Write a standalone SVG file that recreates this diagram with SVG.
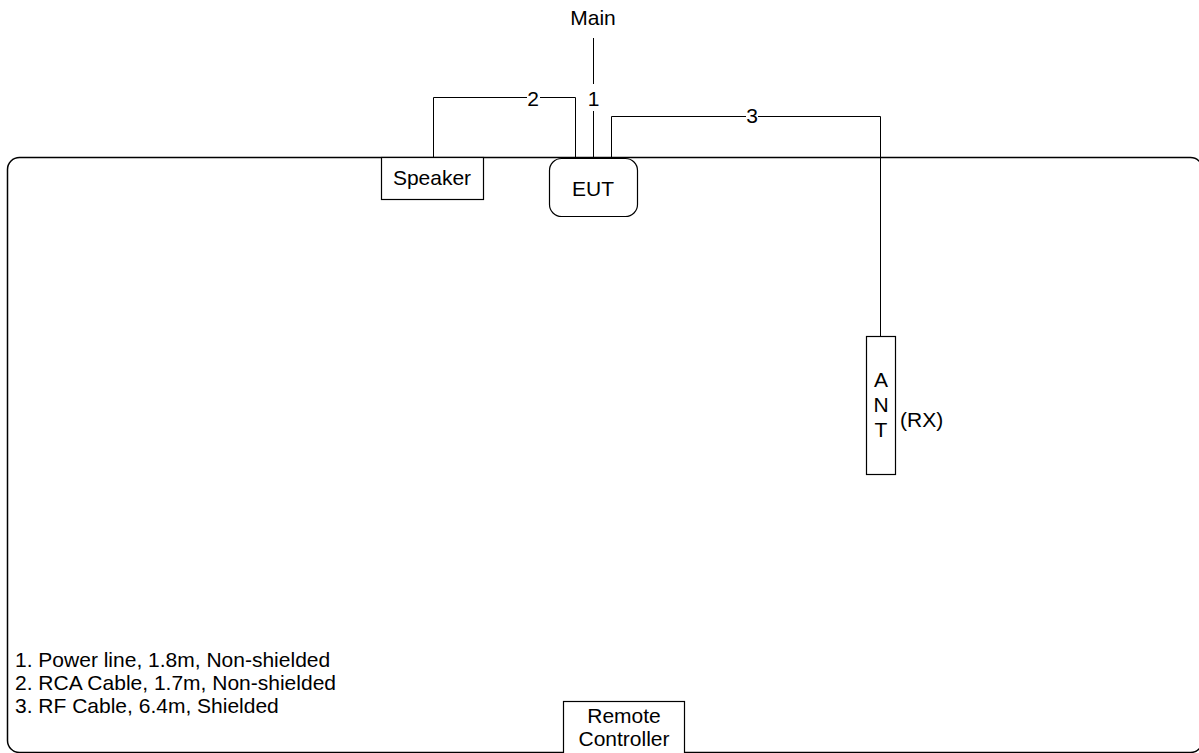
<svg xmlns="http://www.w3.org/2000/svg" width="1199" height="753" viewBox="0 0 1199 753">
<style>
text{font-family:"Liberation Sans",Arial,sans-serif;font-size:21px;fill:#000}
.c{text-anchor:middle}
.box{fill:#fff;stroke:#000;stroke-width:1.2}
.w{fill:none;stroke:#000;stroke-width:1}
</style>
<rect x="0" y="0" width="1199" height="753" fill="#fff"/>
<g id="room"><rect x="7.5" y="157.5" width="1195" height="595" rx="12" fill="none" stroke="#000" stroke-width="1.5"/></g>
<g id="connectors">
<polyline class="w" points="433.5,157 433.5,97.5 575.5,97.5 575.5,157"/>
<rect x="527" y="90" width="13" height="16" fill="#fff"/>
<text class="c" x="533" y="106">2</text>
<line class="w" x1="593.5" y1="38" x2="593.5" y2="157"/>
<rect x="586" y="84" width="15" height="27" fill="#fff"/>
<text class="c" x="593.5" y="106">1</text>
<polyline class="w" points="611.5,157 611.5,116.5 880.5,116.5 880.5,337"/>
<rect x="746" y="108" width="12" height="15" fill="#fff"/>
<text class="c" x="752" y="123">3</text>
</g>
<g id="main"><text class="c" x="593" y="25">Main</text></g>
<g id="speaker"><rect class="box" x="381.5" y="157.5" width="102" height="42"/><text class="c" x="432" y="185">Speaker</text></g>
<g id="eut"><rect class="box" x="549.5" y="158.5" width="88" height="58" rx="12"/><text class="c" x="593" y="196">EUT</text></g>
<g id="ant"><rect class="box" x="866.5" y="336.5" width="29" height="138"/>
<text class="c" x="881" y="387">A</text><text class="c" x="881" y="412">N</text><text class="c" x="881" y="437">T</text>
<text x="900" y="427">(RX)</text></g>
<g id="remote"><rect class="box" x="563.5" y="701.5" width="121" height="60"/><text class="c" x="624" y="723">Remote</text><text class="c" x="624" y="746">Controller</text></g>
<g id="legend">
<text x="15" y="667">1. Power line, 1.8m, Non-shielded</text>
<text x="15" y="690">2. RCA Cable, 1.7m, Non-shielded</text>
<text x="15" y="713">3. RF Cable, 6.4m, Shielded</text>
</g>
</svg>
